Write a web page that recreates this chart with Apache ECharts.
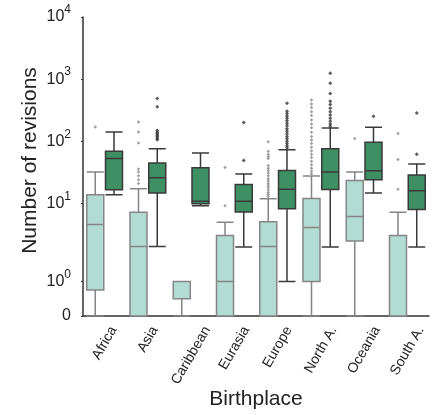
<!DOCTYPE html>
<html>
<head>
<meta charset="utf-8">
<script src="https://cdn.jsdelivr.net/npm/echarts@6/dist/echarts.min.js"></script>
<style>
  html, body { margin: 0; padding: 0; background: #fff; }
  #chart { width: 438px; height: 415px; }
</style>
</head>
<body>
<div id="chart"></div>
<script>
// categories on the x axis
const birthplaces = ['Africa', 'Asia', 'Caribbean', 'Eurasia', 'Europe', 'North A.', 'Oceania', 'South A.'];

// box stats [min, Q1, median, Q3, max], raw revision counts
const lightBoxes = [
  [0, 0.75, 4.6, 13.8, 32],
  [0, 0, 2.03, 7.2, 17.3],
  [0, 0.5, 1, 1, 1],
  [0, 0, 1, 3.05, 5.0],
  [0, 0, 2.03, 5.1, 11.9],
  [0, 1, 4.1, 12, 27.6],
  [0, 2.5, 6.2, 23.5, 32],
  [0, 0, 0, 3.05, 7.2]
];
const darkBoxes = [
  [13.8, 16.6, 53, 69, 141],
  [2.03, 14.7, 26, 44.7, 76],
  [9.2, 9.9, 10.9, 37.7, 65],
  [2, 7.3, 10.9, 20.2, 29.7],
  [1, 8.2, 17, 34, 73.5],
  [2, 16.8, 32, 76, 164],
  [14.7, 24.1, 33.7, 97, 168],
  [2, 8, 16, 28.6, 43]
];

// outliers per category
const lightOutliers = [
  [170],
  [205, 141, 94, 36, 32, 28, 24, 21],
  [],
  [38, 9.2],
  [98, 69, 62, 57, 53, 41, 37, 34, 31, 28, 25, 23, 21, 19.5, 18, 16.5, 15, 14, 13],
  [460, 400, 350, 300, 260, 220, 190, 165, 140, 120, 105, 92, 80, 70, 62, 55, 48, 42, 37, 33, 30],
  [111],
  [133, 51, 17]
];
const darkOutliers = [
  [],
  [490, 360, 150, 140, 132, 125, 118, 112, 106],
  [],
  [200, 49],
  [410, 305, 280, 255, 235, 215, 195, 178, 160, 145, 132, 120, 110, 100, 92, 85, 79],
  [1250, 860, 590, 440, 390, 340, 300, 265, 235, 210, 190, 175],
  [253],
  [286, 62]
];

// y ticks
const tickValues = [0, 1, 10, 100, 1000, 10000];
const tickExponents = ['', '0', '1', '2', '3', '4'];

// symlog, linthresh 2
const LIN = 2;
const LINADJ = 1 / (1 - 1 / 10);
function symlog(v) {
  if (v <= LIN) return v * LINADJ;
  return LIN * (LINADJ + Math.log10(v / LIN));
}

const tickPos = tickValues.map(symlog);
const font = 'Liberation Sans, Arial, sans-serif';
const xFontSize = 14;

function outlierPoints(list) {
  const pts = [];
  list.forEach((vals, i) => vals.forEach(v => pts.push([i, symlog(v)])));
  return pts;
}

// rotated x labels centred under the tick (like matplotlib ha=center)
const measure = document.createElement('canvas').getContext('2d');
measure.font = xFontSize + 'px "Liberation Sans"';
const xRich = {};
birthplaces.forEach((name, i) => {
  const L = measure.measureText(name).width;
  const H = L * Math.sin(Math.PI / 3) + xFontSize * 0.5;
  const D = 8 + H / 2;
  xRich['r' + i] = {
    fontFamily: font, fontSize: xFontSize, color: '#222',
    padding: [D, D * Math.sqrt(3), 0, 0]
  };
});

const chart = echarts.init(document.getElementById('chart'));

const option = {
  animation: false,
  grid: { left: 83, right: 9, top: 17, bottom: 99, containLabel: false, outerBoundsMode: 'none' },
  xAxis: {
    type: 'category',
    data: birthplaces,
    name: 'Birthplace',
    nameLocation: 'middle',
    nameGap: 73,
    nameMoveOverlap: false,
    nameTextStyle: { fontFamily: font, fontSize: 21, color: '#222' },
    axisLine: { lineStyle: { color: '#333', width: 1.5 } },
    axisTick: { show: false },
    axisLabel: {
      rotate: 60, margin: 0, interval: 0,
      align: 'center', verticalAlign: 'middle',
      formatter: (val, idx) => '{r' + idx + '|' + val + '}',
      rich: xRich
    }
  },
  yAxis: {
    type: 'value',
    min: 0,
    max: symlog(10000),
    name: 'Number of revisions',
    nameLocation: 'middle',
    nameGap: 42,
    nameMoveOverlap: false,
    nameTextStyle: { fontFamily: font, fontSize: 21, color: '#222', padding: [0, 0, 0, 12] },
    splitLine: { show: false },
    axisLine: { show: true, lineStyle: { color: '#333', width: 1.5 } },
    axisTick: { show: true, length: 2, customValues: tickPos, lineStyle: { color: '#333' } },
    axisLabel: {
      customValues: tickPos,
      margin: 12,
      formatter: function (val) {
        let idx = 0;
        tickPos.forEach((p, i) => { if (Math.abs(p - val) < 1e-6) idx = i; });
        if (idx === 0) return '{b|0}';
        return '{b|10}{e|' + tickExponents[idx] + '}';
      },
      rich: {
        b: { fontFamily: font, fontSize: 16, color: '#222' },
        e: { fontFamily: font, fontSize: 12, color: '#222', verticalAlign: 'top', padding: [0, 0, 14, 0] }
      }
    }
  },
  series: [
    {
      type: 'boxplot',
      data: lightBoxes.map(b => b.map(symlog)),
      boxWidth: [17, 17],
      itemStyle: { color: '#b2dbd3', borderColor: '#858585', borderWidth: 1.5 }
    },
    {
      type: 'boxplot',
      data: darkBoxes.map(b => b.map(symlog)),
      boxWidth: [17, 17],
      itemStyle: { color: '#3f8f64', borderColor: '#3a3a3a', borderWidth: 1.5 }
    },
    {
      type: 'scatter',
      data: outlierPoints(lightOutliers),
      symbol: 'diamond',
      symbolSize: 3.5,
      symbolOffset: [-9.4, 0],
      itemStyle: { color: '#888' }
    },
    {
      type: 'scatter',
      data: outlierPoints(darkOutliers),
      symbol: 'diamond',
      symbolSize: 4,
      symbolOffset: [9.4, 0],
      itemStyle: { color: '#333' }
    }
  ]
};

chart.setOption(option);
</script>
</body>
</html>
